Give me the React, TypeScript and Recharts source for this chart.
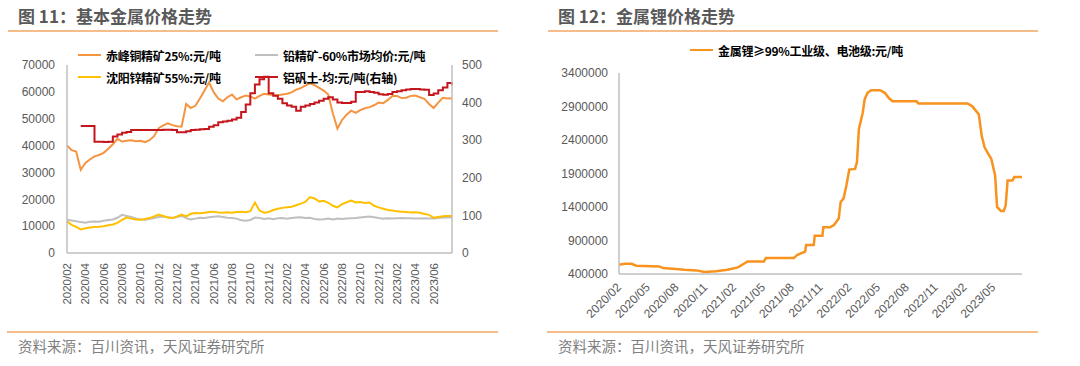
import { Line, LineChart, XAxis, YAxis } from "recharts";

// months since 2020/02, half-month steps
const LEFT_T = [
  0, 0.5, 1, 1.5, 2, 2.5, 3, 3.5, 4, 4.5, 5, 5.5, 6, 6.5, 7, 7.5, 8, 8.5, 9, 9.5, 10, 10.5, 11, 11.5, 12, 12.5,
  13, 13.5, 14, 14.5, 15, 15.5, 16, 16.5, 17, 17.5, 18, 18.5, 19, 19.5, 20, 20.5, 21, 21.5, 22, 22.5, 23, 23.5,
  24, 24.5, 25, 25.5, 26, 26.5, 27, 27.5, 28, 28.5, 29, 29.5, 30, 30.5, 31, 31.5, 32, 32.5, 33, 33.5, 34, 34.5,
  35, 35.5, 36, 36.5, 37, 37.5, 38, 38.5, 39, 39.5, 40, 40.5, 41, 41.5, 42,
];
const CU25 = [
  40000, 38300, 37800, 31000, 33500, 34800, 36000, 36500, 37300, 38800, 40500, 42500, 41500, 41800, 42000, 41600,
  41800, 41300, 42000, 43500, 46500, 47500, 48300, 47600, 47200, 47000, 55500, 54000, 54800, 57500, 60500, 63500,
  59900, 57500, 56500, 58000, 59000, 57200, 58000, 58600, 58300, 57500, 58500, 59300, 59000, 58800, 58700, 59000,
  59300, 59800, 60800, 61400, 62300, 63200, 62500, 61500, 60500, 59000, 52000, 46300, 49500, 51500, 53000, 52200,
  53200, 53900, 54300, 55000, 56000, 55800, 57000, 58500, 58500, 57700, 57800, 58500, 58600, 58000, 57400, 55500,
  54000, 56000, 57800, 57500, 57600,
];
const PB60 = [
  12400, 12100, 11800, 11500, 11300, 11600, 11700, 11600, 12000, 12300, 12500, 13100, 14200, 13800, 13400, 12900,
  12500, 12400, 12700, 13000, 13400, 13600, 13300, 13000, 13400, 13800, 13000, 12500, 12800, 13100, 13000, 13300,
  13500, 13700, 13400, 13100, 13000, 12800, 12200, 12000, 12300, 13200, 13000, 12700, 12900, 12600, 12900, 13000,
  12800, 13000, 13200, 13300, 13000, 13100, 12700, 12500, 12600, 12800, 12500, 12800, 12700, 12800, 12900, 13000,
  13200, 13400, 13600, 13300, 13000, 12800, 12900, 12800, 12900, 13000, 12900, 12900, 12800, 12800, 12900, 12800,
  12800, 13000, 13200, 13200, 13300,
];
const ZN55 = [
  11800, 10500, 9700, 8800, 9200, 9500, 9700, 9800, 10000, 10300, 10600, 11200, 12300, 13200, 12800, 12500,
  12400, 12700, 13000, 13600, 14300, 13800, 13200, 13000, 13600, 14300, 13600, 14600, 14900, 14800, 15000, 15300,
  15400, 15100, 15000, 15200, 15000, 15300, 15400, 15200, 15600, 18800, 15800, 15000, 15300, 16000, 16500, 16800,
  17000, 17200, 17800, 18400, 19000, 20800, 20300, 19200, 19400, 18700, 17600, 17000, 18200, 18900, 19500, 18800,
  19000, 18600, 18800, 17600, 17000, 16500, 16000, 15800, 15500, 15400, 15300, 15100, 15200, 15000, 14500, 14200,
  13100, 13400, 13700, 13800, 13800,
];
const BAUXITE = [
  null, null, null, 338, 338, 338, 296, 296, 295, 296, 310, 315, 320, 322, 327, 327,
  327, 327, 327, 327, 327, 328, 328, 327, 321, 321, 324, 327, 328, 329, 330, 336,
  340, 348, 350, 352, 355, 360, 375, 395, 425, 448, 462, 469, 425, 418, 410, 398,
  392, 389, 378, 389, 392, 396, 400, 405, 410, 414, 408, 400, 399, 399, 402, 428,
  428, 430, 428, 426, 422, 421, 423, 428, 430, 433, 435, 436, 436, 435, 434, 420,
  424, 433, 440, 452, 446,
];
const LEFT_TICKS = [0, 2, 4, 6, 8, 10, 12, 14, 16, 18, 20, 22, 24, 26, 28, 30, 32, 34, 36, 38, 40];
const LEFT_TICK_LABELS = [
  "2020/02", "2020/04", "2020/06", "2020/08", "2020/10", "2020/12", "2021/02", "2021/04", "2021/06", "2021/08",
  "2021/10", "2021/12", "2022/02", "2022/04", "2022/06", "2022/08", "2022/10", "2022/12", "2023/02", "2023/04",
  "2023/06",
];

const LI_T = [
  0, 0.6, 1.3, 1.8, 4.2, 4.6, 5.6, 6.8, 8.1, 8.9, 10.1, 11.3, 12.4, 13.4, 15.1, 15.3, 18.2, 18.6, 19.4, 19.5,
  20.3, 20.4, 21.2, 21.3, 22.0, 22.4, 22.9, 23.1, 23.4, 23.7, 24.0, 24.6, 24.8, 25.0, 25.4, 25.6, 25.9, 26.3,
  27.2, 27.7, 28.1, 28.5, 31.0, 31.2, 36.3, 36.8, 37.5, 37.8, 38.1, 38.5, 38.8, 39.2, 39.4, 39.8, 40.1, 40.3,
  40.5, 41.0, 41.2, 42,
];
const LI_PRICE = [
  538000, 553000, 553000, 523000, 513000, 489000, 479000, 464000, 454000, 430000, 440000, 464000, 499000, 587000,
  587000, 637000, 637000, 686000, 735000, 834000, 834000, 972000, 972000, 1096000, 1096000, 1130000, 1229000,
  1476000, 1525000, 1722000, 1959000, 1969000, 2068000, 2561000, 2808000, 3005000, 3104000, 3143000, 3143000,
  3104000, 3030000, 2980000, 2980000, 2946000, 2946000, 2906000, 2783000, 2462000, 2290000, 2191000, 2117000,
  1870000, 1402000, 1342000, 1342000, 1426000, 1796000, 1796000, 1846000, 1846000,
];
const RIGHT_TICKS = [0, 3, 6, 9, 12, 15, 18, 21, 24, 27, 30, 33, 36, 39];
const RIGHT_TICK_LABELS = [
  "2020/02", "2020/05", "2020/08", "2020/11", "2021/02", "2021/05", "2021/08", "2021/11", "2022/02", "2022/05",
  "2022/08", "2022/11", "2023/02", "2023/05",
];

const leftData = LEFT_T.map((t, i) => ({ t, cu: CU25[i], pb: PB60[i], zn: ZN55[i], al: BAUXITE[i] }));
const liData = LI_T.map((t, i) => ({ t, li: LI_PRICE[i] }));

const CJK = '"Noto Sans CJK SC", "Liberation Sans", sans-serif';
const NUM = '"Liberation Sans", Arial, sans-serif';
const AXIS_LINE = { stroke: "#BFBFBF", strokeWidth: 1.5 };
const TICK = { fontSize: 12, fill: "#595959", fontFamily: NUM };
const RULE = "#F6BC8A";

function VerticalTick({ x, y, payload }: any) {
  const label = LEFT_TICK_LABELS[LEFT_TICKS.indexOf(payload.value)];
  return (
    <text x={x} y={y} transform={`rotate(-90, ${x}, ${y})`} textAnchor="end" dy="0.35em" fontSize={11.5} fill="#595959" fontFamily={NUM}>
      {label}
    </text>
  );
}

function SlantTick({ x, y, payload }: any) {
  const label = RIGHT_TICK_LABELS[RIGHT_TICKS.indexOf(payload.value)];
  return (
    <text x={x} y={y} transform={`rotate(-45, ${x}, ${y})`} textAnchor="end" dy="0.35em" fontSize={12} fill="#595959" fontFamily={NUM}>
      {label}
    </text>
  );
}

function LegendItem({ left, top, color, text }: { left: number; top: number; color: string; text: string }) {
  return (
    <div style={{ position: "absolute", left, top: top - 9, height: 18, display: "flex", alignItems: "center", whiteSpace: "nowrap" }}>
      <div style={{ width: 23, height: 2.5, background: color, marginRight: 5 }} />
      <span style={{ fontSize: 12, fontWeight: 700, color: "#000", fontFamily: CJK, letterSpacing: -0.3 }}>{text}</span>
    </div>
  );
}

function Panel({ left, title }: { left: number; title: string }) {
  return (
    <>
      <div style={{ position: "absolute", left: left + 18, top: 5, fontSize: 17, fontWeight: 700, color: "#595959", fontFamily: CJK, lineHeight: "22px" }}>
        {title}
      </div>
      <div style={{ position: "absolute", left: left + 8, top: 30, width: 490, height: 2, background: RULE }} />
      <div style={{ position: "absolute", left: left + 7, top: 331, width: 491, height: 2, background: RULE }} />
      <div style={{ position: "absolute", left: left + 18, top: 336, fontSize: 14.5, color: "#7F7F7F", fontFamily: CJK, lineHeight: "20px" }}>
        资料来源：百川资讯，天风证券研究所
      </div>
    </>
  );
}

export default function App() {
  return (
    <div style={{ position: "absolute", left: 0, top: 0, width: 1080, height: 366, background: "#fff", overflow: "hidden" }}>
      <Panel left={0} title="图 11：基本金属价格走势" />
      <Panel left={540} title="图 12：金属锂价格走势" />

      <div style={{ position: "absolute", left: 0, top: 0 }}>
        <LineChart width={540} height={330} data={leftData} margin={{ top: 65, right: 0, bottom: 0, left: 0 }}>
          <XAxis
            dataKey="t"
            type="number"
            domain={[0, 42]}
            ticks={LEFT_TICKS}
            interval={0}
            height={77}
            axisLine={AXIS_LINE}
            tickLine={false}
            tickMargin={4}
            tick={<VerticalTick />}
          />
          <YAxis
            yAxisId="left"
            domain={[0, 70000]}
            ticks={[0, 10000, 20000, 30000, 40000, 50000, 60000, 70000]}
            width={67}
            axisLine={AXIS_LINE}
            tickLine={false}
            tickMargin={6}
            tick={TICK}
          />
          <YAxis
            yAxisId="right"
            orientation="right"
            domain={[0, 500]}
            ticks={[0, 100, 200, 300, 400, 500]}
            width={88}
            axisLine={AXIS_LINE}
            tickLine={false}
            tickMargin={4}
            tick={{ ...TICK, textAnchor: "start" }}
          />
          <Line yAxisId="left" dataKey="pb" type="linear" stroke="#BFBFBF" strokeWidth={2} dot={false} isAnimationActive={false} />
          <Line yAxisId="left" dataKey="zn" type="linear" stroke="#FFC000" strokeWidth={2} dot={false} isAnimationActive={false} />
          <Line yAxisId="left" dataKey="cu" type="linear" stroke="#F59541" strokeWidth={2} dot={false} isAnimationActive={false} />
          <Line yAxisId="right" dataKey="al" type="stepAfter" stroke="#C4161C" strokeWidth={2} dot={false} isAnimationActive={false} />
        </LineChart>
      </div>

      <div style={{ position: "absolute", left: 540, top: 0 }}>
        <LineChart width={540} height={330} data={liData} margin={{ top: 73, right: 58, bottom: 0, left: 0 }}>
          <XAxis
            dataKey="t"
            type="number"
            domain={[0, 42]}
            ticks={RIGHT_TICKS}
            interval={0}
            height={56}
            axisLine={AXIS_LINE}
            tickLine={false}
            tickMargin={5}
            tick={<SlantTick />}
          />
          <YAxis
            domain={[400000, 3400000]}
            ticks={[400000, 900000, 1400000, 1900000, 2400000, 2900000, 3400000]}
            width={79}
            axisLine={AXIS_LINE}
            tickLine={false}
            tickMargin={5}
            tick={TICK}
          />
          <Line dataKey="li" type="linear" stroke="#F7931E" strokeWidth={2.5} dot={false} isAnimationActive={false} />
        </LineChart>
      </div>

      <LegendItem left={78} top={55} color="#F59541" text="赤峰铜精矿25%:元/吨" />
      <LegendItem left={255} top={55} color="#BFBFBF" text="铅精矿-60%市场均价:元/吨" />
      <LegendItem left={78} top={77} color="#FFC000" text="沈阳锌精矿55%:元/吨" />
      <LegendItem left={255} top={77} color="#C4161C" text="铝矾土-均:元/吨(右轴)" />
      <LegendItem left={690} top={50} color="#F7931E" text="金属锂≥99%工业级、电池级:元/吨" />
    </div>
  );
}
